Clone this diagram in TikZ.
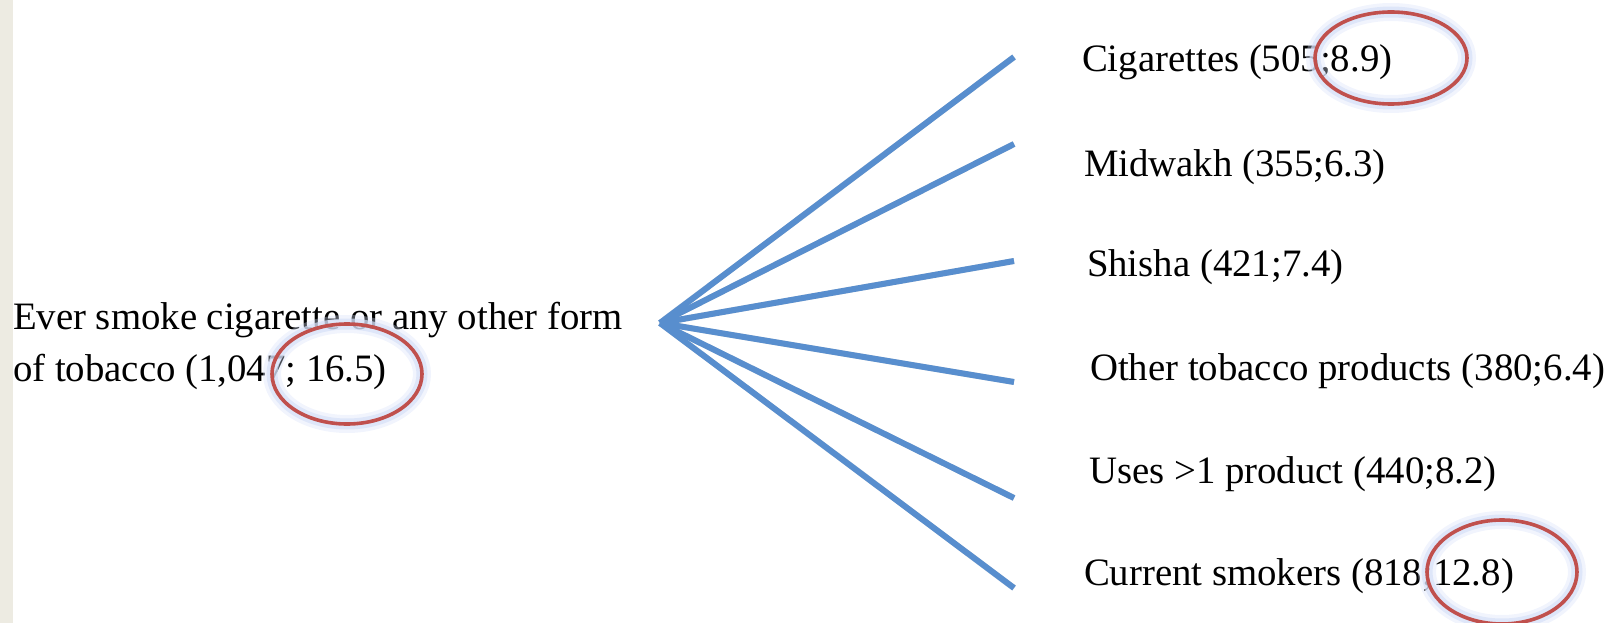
\documentclass[tikz,border=0pt]{standalone}
\usepackage{fontspec}
\setmainfont{Liberation Serif}
\definecolor{strip}{RGB}{237,235,226}
\definecolor{branch}{RGB}{88,142,206}
\definecolor{ring}{RGB}{192,80,77}
\definecolor{glow}{RGB}{214,224,248}
\tikzset{
  lbl/.style={anchor=base west, inner sep=0pt, outer sep=0pt, font=\fontsize{38.8}{51.6}\selectfont},
  branchline/.style={draw=branch, line width=6pt, line cap=butt},
  shadowline/.style={draw=black, opacity=0.15, line width=6pt},
  halowide/.style={draw=glow, line width=18pt, opacity=0.35},
  halo/.style={draw=glow, line width=11pt, opacity=0.7},
  ringline/.style={draw=ring, line width=3.6pt}
}
\begin{document}
\begin{tikzpicture}[x=1pt,y=-1pt]
\useasboundingbox (0,0) rectangle (1618,623);
\fill[strip] (0,0) rectangle (13,623);

% labels
\node[lbl] (ever1) at (13,329) {Ever smoke cigarette or any other form};
\node[lbl] (ever2) at (13,381) {of tobacco (1,047; 16.5)};
\node[lbl] (cig) at (1082,72) {Cigarettes (505;8.9)};
\node[lbl] (mid) at (1084,177) {Midwakh (355;6.3)};
\node[lbl] (shi) at (1087,276) {Shisha (421;7.4)};
\node[lbl] (oth) at (1090,380) {Other tobacco products (380;6.4)};
\node[lbl] (use) at (1089,483) {Uses >1 product (440;8.2)};
\node[lbl] (cur) at (1084,585) {Current smokers (818;12.8)};

% hub and branch ends
\coordinate (hub) at (660,323);
\coordinate (e1) at (1014,57);
\coordinate (e2) at (1014,144);
\coordinate (e3) at (1014,261);
\coordinate (e4) at (1014,382);
\coordinate (e5) at (1014,498);
\coordinate (e6) at (1014,588);

\begin{scope}[shift={(1.5,3)}]
\foreach \e in {e1,e2,e3,e4,e5,e6}{
  \draw[shadowline] (hub) -- (\e);
}
\end{scope}
\foreach \e in {e1,e2,e3,e4,e5,e6}{
  \draw[branchline] (hub) -- (\e);
}

% highlight rings
\coordinate (r1) at (347,374);
\coordinate (r2) at (1391,58);
\coordinate (r3) at (1502,572);
\foreach \c/\rx/\ry in {r1/75/50, r2/76/46, r3/75/52}{
  \draw[halowide] (\c) ellipse [x radius=\rx, y radius=\ry];
  \draw[halo] (\c) ellipse [x radius=\rx, y radius=\ry];
}
\foreach \c/\rx/\ry in {r1/75/50, r2/76/46, r3/75/52}{
  \draw[ringline] (\c) ellipse [x radius=\rx, y radius=\ry];
}
\end{tikzpicture}
\end{document}
